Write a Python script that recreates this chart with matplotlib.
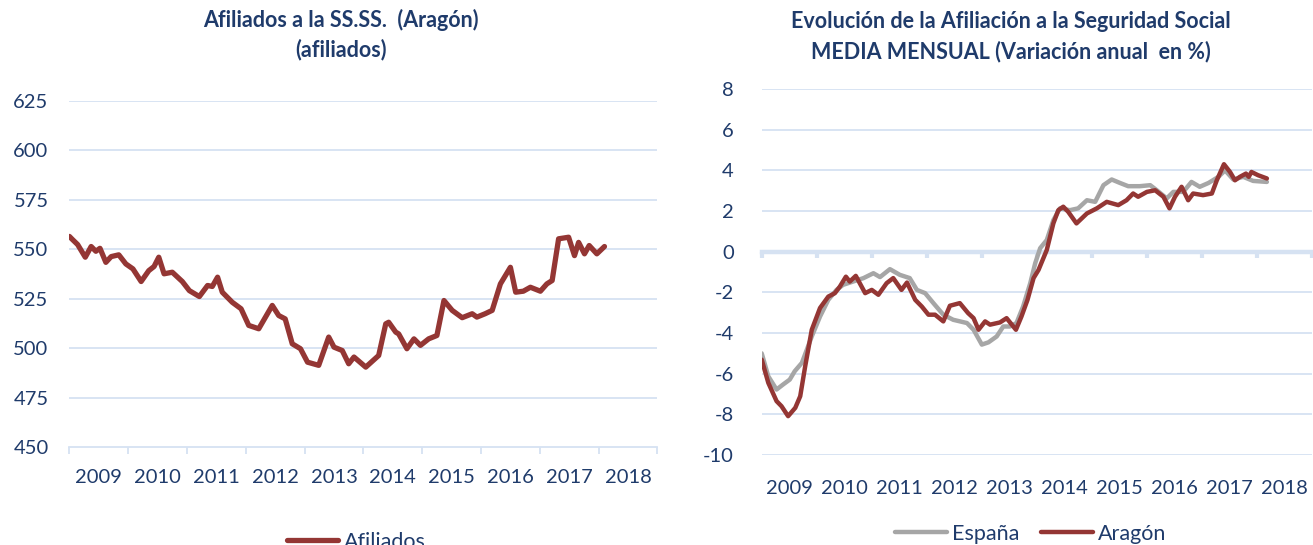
import numpy as np
import matplotlib.pyplot as plt
from matplotlib.lines import Line2D

plt.rcParams['font.family'] = ['Lato', 'DejaVu Sans']
plt.rcParams['axes.unicode_minus'] = False

# --- data (decimal year, value) ---
afil_t = [2009.00, 2009.05, 2009.14, 2009.27, 2009.37, 2009.45, 2009.52, 2009.62, 2009.71, 2009.84,
          2009.96, 2010.08, 2010.22, 2010.35, 2010.44, 2010.52, 2010.61, 2010.75, 2010.92, 2011.04,
          2011.21, 2011.35, 2011.43, 2011.52, 2011.60, 2011.77, 2011.92, 2012.05, 2012.22, 2012.45,
          2012.56, 2012.67, 2012.79, 2012.93, 2013.05, 2013.24, 2013.41, 2013.50, 2013.64, 2013.75,
          2013.84, 2014.04, 2014.26, 2014.38, 2014.43, 2014.55, 2014.60, 2014.74, 2014.86, 2014.97,
          2015.11, 2015.25, 2015.37, 2015.51, 2015.68, 2015.85, 2015.93, 2016.07, 2016.19, 2016.33,
          2016.50, 2016.59, 2016.72, 2016.84, 2017.01, 2017.12, 2017.21, 2017.32, 2017.49, 2017.59,
          2017.66, 2017.76, 2017.84, 2017.97, 2018.10]
afil_v = [556.5, 555.0, 552.4, 546.0, 551.4, 549.0, 550.5, 543.4, 546.3, 547.2,
          542.6, 540.1, 533.7, 539.2, 541.3, 546.0, 537.6, 538.4, 533.7, 529.1,
          526.1, 531.7, 531.2, 535.9, 528.3, 523.2, 519.9, 511.5, 509.8, 521.6,
          516.5, 514.8, 502.2, 499.7, 492.9, 491.3, 505.6, 500.5, 498.8, 492.1,
          495.5, 490.4, 496.3, 512.3, 513.1, 508.1, 507.2, 499.7, 504.7, 501.4,
          504.7, 506.4, 524.1, 519.1, 515.4, 517.4, 515.7, 517.4, 519.1, 532.5,
          540.9, 528.3, 528.8, 530.8, 528.8, 532.5, 534.2, 555.3, 556.1, 546.8,
          553.5, 547.7, 551.9, 547.7, 551.4]

esp_t = [2009.00, 2009.12, 2009.27, 2009.39, 2009.51, 2009.60, 2009.73, 2009.82, 2009.91, 2010.06,
         2010.21, 2010.36, 2010.48, 2010.66, 2010.85, 2011.03, 2011.15, 2011.33, 2011.51, 2011.69,
         2011.82, 2011.97, 2012.12, 2012.30, 2012.48, 2012.73, 2012.85, 2013.00, 2013.12, 2013.27,
         2013.39, 2013.51, 2013.63, 2013.75, 2013.88, 2013.97, 2014.06, 2014.18, 2014.30, 2014.42,
         2014.60, 2014.75, 2014.91, 2015.06, 2015.21, 2015.36, 2015.51, 2015.66, 2015.87, 2016.06,
         2016.18, 2016.36, 2016.48, 2016.66, 2016.81, 2016.96, 2017.12, 2017.30, 2017.42, 2017.57,
         2017.75, 2017.93, 2018.18]
esp_v = [-5.00, -6.13, -6.78, -6.53, -6.29, -5.88, -5.47, -4.82, -4.17, -3.19,
         -2.37, -1.88, -1.63, -1.47, -1.30, -1.06, -1.25, -0.86, -1.14, -1.30,
         -1.88, -2.04, -2.53, -3.10, -3.35, -3.51, -3.84, -4.57, -4.46, -4.17,
         -3.68, -3.68, -3.51, -2.70, -1.55, -0.57, 0.17, 0.57, 1.55, 2.13,
         2.04, 2.13, 2.53, 2.45, 3.27, 3.55, 3.38, 3.22, 3.22, 3.27,
         3.02, 2.62, 2.94, 2.94, 3.43, 3.19, 3.38, 3.68, 4.00, 3.55,
         3.68, 3.48, 3.43]

ara_t = [2009.00, 2009.12, 2009.27, 2009.36, 2009.48, 2009.61, 2009.70, 2009.79, 2009.91, 2010.06,
         2010.21, 2010.33, 2010.42, 2010.53, 2010.60, 2010.71, 2010.88, 2011.00, 2011.12, 2011.27,
         2011.39, 2011.54, 2011.64, 2011.79, 2011.91, 2012.03, 2012.15, 2012.30, 2012.42, 2012.60,
         2012.75, 2012.85, 2012.94, 2013.06, 2013.15, 2013.33, 2013.45, 2013.62, 2013.72, 2013.83,
         2013.94, 2014.03, 2014.18, 2014.30, 2014.39, 2014.48, 2014.57, 2014.72, 2014.91, 2015.09,
         2015.27, 2015.48, 2015.63, 2015.75, 2015.84, 2016.00, 2016.15, 2016.30, 2016.41, 2016.51,
         2016.63, 2016.75, 2016.84, 2017.02, 2017.18, 2017.27, 2017.40, 2017.51, 2017.60, 2017.69,
         2017.80, 2017.85, 2017.90, 2018.02, 2018.18]
ara_v = [-5.31, -6.45, -7.35, -7.60, -8.09, -7.68, -7.11, -5.64, -3.84, -2.77,
         -2.21, -2.04, -1.72, -1.23, -1.47, -1.19, -2.04, -1.88, -2.12, -1.55,
         -1.30, -1.88, -1.52, -2.37, -2.70, -3.10, -3.10, -3.43, -2.66, -2.53,
         -3.02, -3.27, -3.84, -3.43, -3.59, -3.48, -3.27, -3.84, -3.19, -2.37,
         -1.30, -0.90, 0.08, 1.39, 2.04, 2.21, 1.96, 1.39, 1.88, 2.13,
         2.45, 2.29, 2.53, 2.86, 2.70, 2.94, 3.02, 2.70, 2.13, 2.70,
         3.19, 2.53, 2.86, 2.78, 2.86, 3.51, 4.30, 3.92, 3.51, 3.68,
         3.84, 3.68, 3.92, 3.76, 3.60]

years = list(range(2009, 2019))
year_labels = [str(y) for y in years]

TXT = '#1F3B6B'
GRID = '#D6E2F2'
RED = '#943634'
GREY = '#A6A6A6'
TICK_FS = 14.5
TITLE_FS = 15.5
LEG_FS = 15.5

W, H = 1313, 545
fig = plt.figure(figsize=(W / 100, H / 100), dpi=100)

# ---------------- left chart ----------------
ax1 = fig.add_axes([69.4 / W, 1 - 447 / H, 588 / W, 346 / H])
ax1.plot(afil_t, afil_v, color=RED, lw=3.8, solid_capstyle='round', solid_joinstyle='round')
ax1.set_xlim(2009, 2019)
ax1.set_ylim(450, 625)
ax1.set_yticks(np.arange(450, 626, 25))
for v in np.arange(475, 626, 25):
    ax1.axhline(v, color=GRID, lw=1.3, zorder=0)
for s in ['top', 'right', 'left']:
    ax1.spines[s].set_visible(False)
ax1.spines['bottom'].set_color(GRID)
ax1.spines['bottom'].set_linewidth(1.3)
ax1.set_xticks(range(2009, 2020))
ax1.set_xticklabels([])
ax1.set_xticks([y + 0.5 for y in years], minor=True)
ax1.set_xticklabels(year_labels, minor=True)
ax1.tick_params(axis='x', which='major', length=5, width=1.3, color=GRID)
ax1.tick_params(axis='x', which='minor', length=0, pad=16, labelsize=TICK_FS, labelcolor=TXT)
ax1.tick_params(axis='y', length=0, pad=15, labelsize=TICK_FS, labelcolor=TXT)

fig.text(341 / W, 1 - 20 / H, 'Afiliados a la SS.SS.  (Aragón)', ha='center', va='center',
         fontsize=TITLE_FS, fontweight='bold', color=TXT)
fig.text(341 / W, 1 - 50 / H, '(afiliados)', ha='center', va='center',
         fontsize=TITLE_FS, fontweight='bold', color=TXT)

fig.legend(handles=[Line2D([], [], color=RED, lw=3.8, solid_capstyle='round')],
           labels=['Afiliados'], loc='center', bbox_to_anchor=(356 / W, 1 - 542 / H),
           frameon=False, fontsize=LEG_FS, labelcolor=TXT, handlelength=2.4, handletextpad=0.25)

# ---------------- right chart ----------------
ax2 = fig.add_axes([761.7 / W, 1 - 455 / H, 550.3 / W, 366 / H])
ax2.plot(esp_t, esp_v, color=GREY, lw=3.2, solid_capstyle='round', solid_joinstyle='round', zorder=3)
ax2.plot(ara_t, ara_v, color=RED, lw=3.2, solid_capstyle='round', solid_joinstyle='round', zorder=4)
ax2.set_xlim(2009, 2019)
ax2.set_ylim(-10, 8)
ax2.set_yticks(np.arange(-10, 9, 2))
for v in np.arange(-10, 9, 2):
    if v != 0:
        ax2.axhline(v, color=GRID, lw=1.3, zorder=0)
for s in ['top', 'right', 'left']:
    ax2.spines[s].set_visible(False)
ax2.spines['bottom'].set_position(('data', 0))
ax2.spines['bottom'].set_color(GRID)
ax2.spines['bottom'].set_linewidth(3.2)
ax2.spines['bottom'].set_zorder(1)
ax2.set_xticks(range(2009, 2020))
ax2.set_xticklabels([])
ax2.tick_params(axis='x', which='major', length=4, width=3, color=GRID)
ax2.tick_params(axis='y', length=0, pad=20, labelsize=TICK_FS, labelcolor=TXT)

sec = ax2.secondary_xaxis('bottom')
sec.set_xticks([y + 0.5 for y in years])
sec.set_xticklabels(year_labels)
sec.tick_params(length=0, pad=18, labelsize=TICK_FS, labelcolor=TXT)
sec.spines['bottom'].set_visible(False)

fig.text(1011 / W, 1 - 22 / H, 'Evolución de la Afiliación a la Seguridad Social', ha='center',
         va='center', fontsize=TITLE_FS, fontweight='bold', color=TXT)
fig.text(1011 / W, 1 - 52 / H, 'MEDIA MENSUAL (Variación anual  en %)', ha='center',
         va='center', fontsize=TITLE_FS, fontweight='bold', color=TXT)

fig.legend(handles=[Line2D([], [], color=GREY, lw=3.2, solid_capstyle='round'),
                    Line2D([], [], color=RED, lw=3.2, solid_capstyle='round')],
           labels=['España', 'Aragón'], loc='center', bbox_to_anchor=(1031 / W, 1 - 534 / H),
           ncol=2, frameon=False, fontsize=LEG_FS, labelcolor=TXT, handlelength=2.4,
           handletextpad=0.25, columnspacing=1.0)

fig.savefig('out.png', dpi=100)
